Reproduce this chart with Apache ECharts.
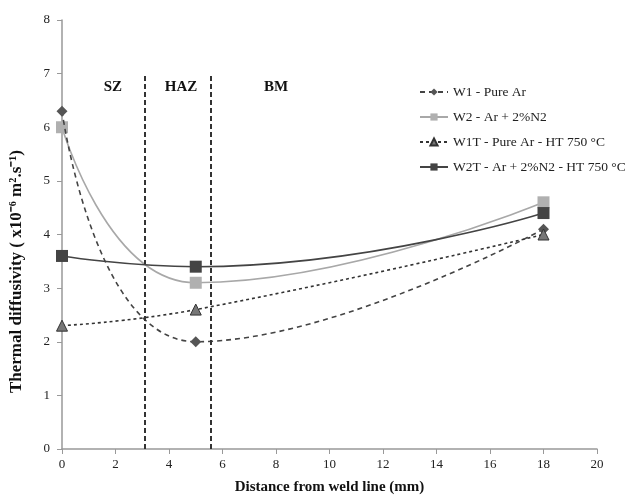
<!DOCTYPE html>
<html>
<head>
<meta charset="utf-8">
<script src="https://cdn.jsdelivr.net/npm/echarts@6/dist/echarts.min.js"></script>
<style>
  html, body { margin: 0; padding: 0; background: #fff; }
  #chart { width: 643px; height: 500px; }
</style>
</head>
<body>
<div id="chart"></div>
<script>
// distances (mm) where measurements were taken
const distances = [0, 5, 18]
// thermal diffusivity, x10^-6 m2/s
const w1 = [6.3, 2.0, 4.1]
const w2 = [6.0, 3.1, 4.6]
const w1t = [2.3, 2.6, 4.0]
const w2t = [3.6, 3.4, 4.4]
const seriesNames = ['W1 - Pure Ar', 'W2 - Ar + 2%N2', 'W1T - Pure Ar - HT 750 °C', 'W2T - Ar + 2%N2 - HT 750 °C']
// zone boundaries (mm) and zone names
const zoneBounds = [3.1, 5.57]
const zoneNames = ['SZ', 'HAZ', 'BM']
const zoneCenters = [1.9, 4.45, 8.0]

const font = 'Liberation Serif'
const pairs = arr => arr.map((v, i) => [distances[i], v])

const chart = echarts.init(document.getElementById('chart'))

const option = {
  animation: false,
  textStyle: { fontFamily: font },
  grid: { left: 62, right: 46, top: 20, bottom: 50 },
  graphic: [
    {
      // y axis title, placed like the original (sits lower than centre)
      type: 'text',
      left: 8,
      top: 150,
      rotation: Math.PI / 2,
      style: {
        text: 'Thermal diffusivity ( x10⁻⁶ m².s⁻¹)',
        font: 'bold 17px "Liberation Serif"',
        fill: '#111'
      }
    }
  ],
  legend: {
    orient: 'vertical',
    left: 414,
    top: 80,
    itemGap: 11,
    itemWidth: 28,
    itemHeight: 9,
    textStyle: { fontFamily: font, fontSize: 13.5, color: '#222' },
    data: seriesNames
  },
  xAxis: {
    type: 'value',
    min: 0,
    max: 20,
    interval: 2,
    name: 'Distance from weld line (mm)',
    nameLocation: 'middle',
    nameGap: 31,
    nameTextStyle: { fontFamily: font, fontSize: 15, fontWeight: 'bold', color: '#111' },
    axisLine: { lineStyle: { color: '#999', width: 1.5 } },
    axisTick: { lineStyle: { color: '#999' }, length: 5 },
    axisLabel: { fontFamily: font, fontSize: 13, color: '#222', margin: 9 },
    splitLine: { show: false }
  },
  yAxis: {
    type: 'value',
    min: 0,
    max: 8,
    interval: 1,
    axisLine: { show: true, lineStyle: { color: '#999', width: 1.5 } },
    axisTick: { show: true, lineStyle: { color: '#999' }, length: 5 },
    axisLabel: { fontFamily: font, fontSize: 13, color: '#222', margin: 12 },
    splitLine: { show: false }
  },
  series: [
    {
      name: seriesNames[0],
      type: 'line',
      smooth: 0.5,
      data: pairs(w1),
      symbol: 'diamond',
      symbolSize: 11,
      itemStyle: { color: '#555' },
      lineStyle: { color: '#444', width: 1.6, type: [5, 4] },
      z: 4,
      markLine: {
        silent: true,
        symbol: 'none',
        label: { show: false },
        lineStyle: { color: '#333', width: 2, type: [5, 3] },
        data: zoneBounds.map(b => [{ coord: [b, 0] }, { coord: [b, 7] }])
      },
      markPoint: {
        silent: true,
        symbol: 'circle',
        symbolSize: 0,
        label: {
          show: true,
          fontFamily: font,
          fontSize: 15,
          fontWeight: 'bold',
          color: '#111',
          formatter: p => p.name
        },
        data: zoneNames.map((n, i) => ({ name: n, coord: [zoneCenters[i], 6.75] }))
      }
    },
    {
      name: seriesNames[1],
      type: 'line',
      smooth: 0.5,
      data: pairs(w2),
      symbol: 'rect',
      symbolSize: 12,
      itemStyle: { color: '#b0b0b0' },
      lineStyle: { color: '#a8a8a8', width: 1.6 },
      z: 3
    },
    {
      name: seriesNames[2],
      type: 'line',
      smooth: 0.5,
      data: pairs(w1t),
      symbol: 'triangle',
      symbolSize: 11,
      itemStyle: { color: '#777', borderColor: '#333', borderWidth: 1 },
      lineStyle: { color: '#333', width: 1.6, type: [3, 3] },
      z: 5
    },
    {
      name: seriesNames[3],
      type: 'line',
      smooth: 0.5,
      data: pairs(w2t),
      symbol: 'rect',
      symbolSize: 12,
      itemStyle: { color: '#444' },
      lineStyle: { color: '#444', width: 1.6 },
      z: 6
    }
  ]
}

chart.setOption(option)
</script>
</body>
</html>
